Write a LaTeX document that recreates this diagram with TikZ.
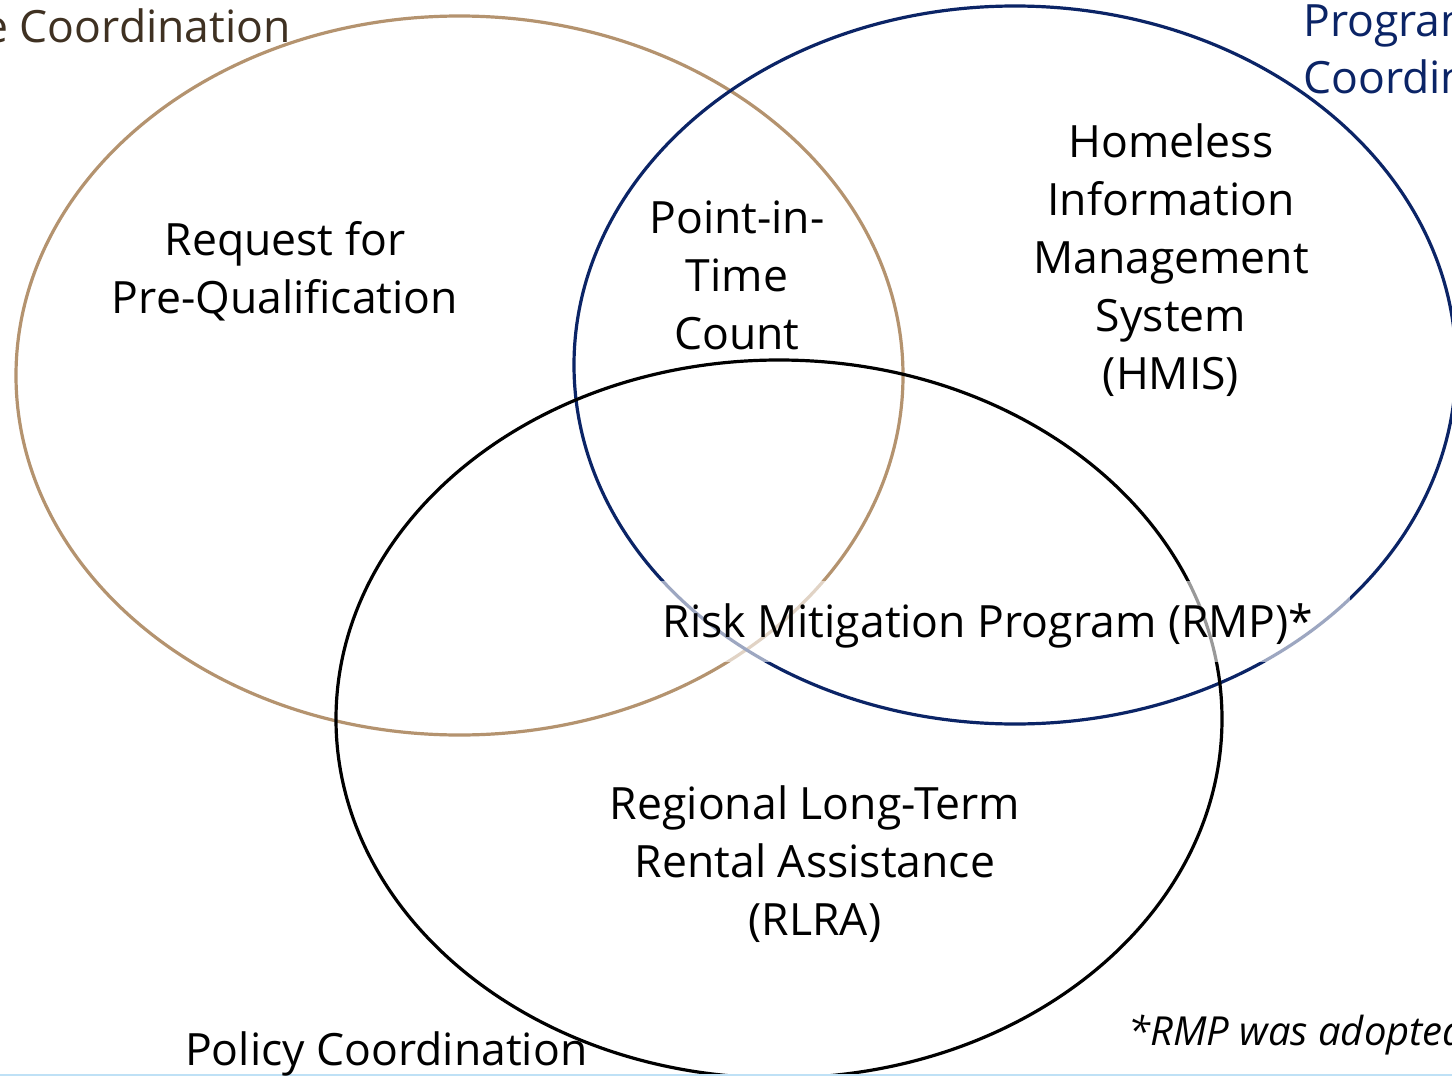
\documentclass[tikz,border=0pt]{standalone}
\usepackage{fontspec}
\setmainfont{Open Sans}
\definecolor{tanline}{HTML}{B4936F}
\definecolor{navyline}{HTML}{0B2466}
\definecolor{titlebrown}{HTML}{3F3122}
\definecolor{rulelight}{HTML}{BFE1F6}
\tikzset{
  ring/.style={line width=3.2pt},
  lbl/.style={anchor=base, align=center, inner sep=0pt, font=\fontsize{44.5}{58}\selectfont, text=black},
  ttl/.style={anchor=base west, align=left, inner sep=0pt, font=\fontsize{44.5}{57}\selectfont},
}
\begin{document}
\begin{tikzpicture}[x=1pt,y=-1pt]
\useasboundingbox (0,0) rectangle (1452,1076);
\clip (0,0) rectangle (1452,1076);
\fill[white] (0,0) rectangle (1452,1076);
\draw[ring, tanline] (459.5,375.5) ellipse [x radius=443.5pt, y radius=359.5pt];
\draw[ring, navyline] (1015,365) ellipse [x radius=441pt, y radius=359pt];
\draw[ring, black] (779,719) ellipse [x radius=443pt, y radius=359pt];
\draw[rulelight, line width=2pt] (0,1074.5) -- (1452,1074.5);
% labels
\node[ttl, text=titlebrown, anchor=base east] (fin) at (291,42) {e Coordination};
\node[ttl, text=navyline] (prog) at (1303,93) {Program\\Coordination};
\node[ttl, text=black] (pol) at (185,1065) {Policy Coordination};
\node[ttl, text=black, font=\fontsize{40}{44}\selectfont\itshape] (note) at (1128,1045) {*RMP was adopted};
\node[lbl] (rfq) at (285,313) {Request for\\Pre-Qualification};
\node[lbl] (pit) at (737,349) {Point-in-\\Time\\Count};
\node[lbl] (hmis) at (1171,389) {Homeless\\Information\\Management\\System\\(HMIS)};
\fill[white, fill opacity=0.6] (660,581) rectangle (1350,662);
\node[lbl] (rmp) at (988,637) {Risk Mitigation Program (RMP)*};
\node[lbl] (rlra) at (815,935) {Regional Long-Term\\Rental Assistance\\(RLRA)};
\end{tikzpicture}
\end{document}
